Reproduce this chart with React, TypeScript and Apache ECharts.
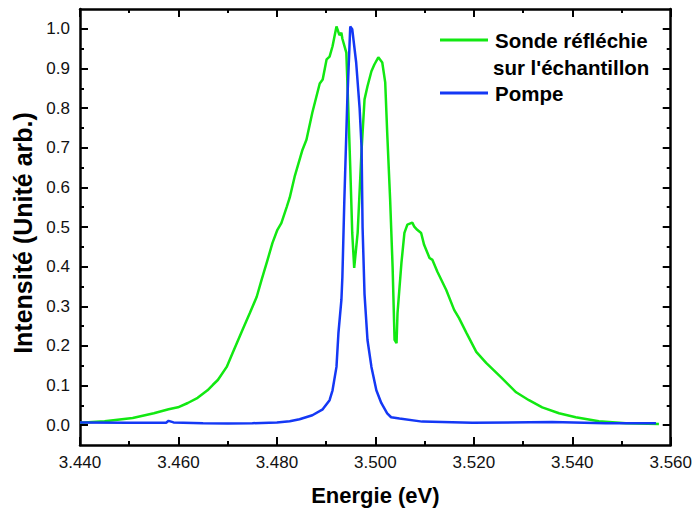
import React, { useEffect, useRef } from "react";
import * as echarts from "echarts";

const sondeEnergy = [
  3.44, 3.445, 3.4507, 3.455, 3.458, 3.4599, 3.4619, 3.4639, 3.4659, 3.467, 3.468, 3.4698,
  3.471, 3.473, 3.4745, 3.4759, 3.4769, 3.4781, 3.4791, 3.4801, 3.4809, 3.482, 3.4826,
  3.4836, 3.4852, 3.486, 3.4872, 3.4887, 3.4893, 3.4901, 3.4907, 3.4913, 3.4921, 3.4927,
  3.4931, 3.4933, 3.4941, 3.4945, 3.4949, 3.4953, 3.4957, 3.4964, 3.4972, 3.4978, 3.4984,
  3.4992, 3.4998, 3.5006, 3.5014, 3.502, 3.5024, 3.503, 3.5035, 3.5039, 3.5043, 3.5045,
  3.5053, 3.5059, 3.5065, 3.5075, 3.5079, 3.5085, 3.5093, 3.5099, 3.511, 3.5116, 3.5126,
  3.5144, 3.516, 3.517, 3.5185, 3.5205, 3.5225, 3.5255, 3.5286, 3.5312, 3.5339, 3.5373,
  3.5407, 3.5454, 3.5509, 3.5576,
];
const sondeValues = [
  0.006, 0.01, 0.018, 0.03, 0.04, 0.045, 0.056, 0.069, 0.088, 0.102, 0.114, 0.147,
  0.182, 0.24, 0.283, 0.324, 0.367, 0.417, 0.46, 0.493, 0.51, 0.551, 0.574,
  0.627, 0.695, 0.72, 0.789, 0.862, 0.872, 0.923, 0.93, 0.956, 1.006, 0.984,
  0.99, 0.975, 0.94, 0.8, 0.65, 0.485, 0.397, 0.485, 0.695, 0.822, 0.855,
  0.893, 0.91, 0.928, 0.915, 0.865, 0.739, 0.569, 0.4, 0.215, 0.207, 0.283,
  0.41, 0.485, 0.506, 0.511, 0.501, 0.493, 0.485, 0.455, 0.422, 0.417, 0.387,
  0.341, 0.291, 0.27, 0.233, 0.185, 0.157, 0.121, 0.083, 0.063, 0.045, 0.03,
  0.02, 0.01, 0.005, 0.003,
];

const pompeEnergy = [
  3.44, 3.45, 3.4575, 3.458, 3.459, 3.465, 3.47, 3.475, 3.48, 3.4826, 3.4846, 3.4872,
  3.4893, 3.4907, 3.4913, 3.4921, 3.4925, 3.4931, 3.4933, 3.4937, 3.4943, 3.4949, 3.4953,
  3.4961, 3.4968, 3.4972, 3.4974, 3.4978, 3.4984, 3.4992, 3.5002, 3.5012, 3.5024, 3.5032,
  3.5049, 3.5095, 3.5197, 3.5359, 3.5468, 3.557,
];
const pompeValues = [
  0.007, 0.006, 0.006, 0.011, 0.007, 0.005, 0.004, 0.005, 0.007, 0.01, 0.015, 0.025,
  0.04, 0.063, 0.088, 0.147, 0.233, 0.316, 0.374, 0.569, 0.82, 1.006, 0.999,
  0.915, 0.8, 0.7, 0.5, 0.33, 0.215, 0.147, 0.088, 0.056, 0.03, 0.02,
  0.017, 0.009, 0.006, 0.008, 0.005, 0.005,
];

const yMajorTicks = [0, 0.1, 0.2, 0.3, 0.4, 0.5, 0.6, 0.7, 0.8, 0.9, 1.0];
const yMinorTicks = [0.05, 0.15, 0.25, 0.35, 0.45, 0.55, 0.65, 0.75, 0.85, 0.95];

const legendSonde = ["Sonde réfléchie", "sur l'échantillon"];
const legendPompe = "Pompe";

const FONT = "'Liberation Sans', Arial, Helvetica, sans-serif";
const GREEN = "#12e812";
const BLUE = "#1438f5";

export default function App() {
  const ref = useRef<HTMLDivElement>(null);

  useEffect(() => {
    if (!ref.current) return;
    const chart = echarts.init(ref.current, null, { renderer: "svg" });

    const yBase = (position: "left" | "right", ticks: number[], len: number, showLine: boolean, labels: boolean, name?: string) => ({
      type: "value",
      position,
      min: -0.05,
      max: 1.05,
      splitLine: { show: false },
      axisLine: { show: showLine, onZero: false, lineStyle: { color: "#000", width: 2.5 } },
      axisTick: {
        show: true,
        inside: true,
        length: len,
        customValues: ticks,
        lineStyle: { color: "#000", width: 2 },
      },
      axisLabel: labels
        ? {
            show: true,
            customValues: ticks,
            formatter: (v: number) => v.toFixed(1),
            color: "#111",
            fontSize: 17,
            fontFamily: FONT,
            margin: 10,
          }
        : { show: false },
      name: name,
      nameLocation: "middle",
      nameGap: 42,
      nameTextStyle: { fontSize: 25, fontWeight: "bold", color: "#000", fontFamily: FONT, padding: [0, 12, 0, 0] },
    });

    const xBase = (position: "bottom" | "top", labels: boolean, name?: string) => ({
      type: "value",
      position,
      min: 3.44,
      max: 3.56,
      interval: 0.02,
      splitLine: { show: false },
      axisLine: { show: true, onZero: false, lineStyle: { color: "#000", width: 2.5 } },
      axisTick: { show: true, inside: true, length: 8, lineStyle: { color: "#000", width: 2 } },
      minorTick: { show: true, splitNumber: 2, length: 4, lineStyle: { color: "#000", width: 2 } },
      axisLabel: labels
        ? {
            show: true,
            formatter: (v: number) => v.toFixed(3),
            color: "#111",
            fontSize: 17,
            fontFamily: FONT,
            margin: 9,
          }
        : { show: false },
      name: name,
      nameLocation: "middle",
      nameGap: 39,
      nameTextStyle: { fontSize: 22, fontWeight: "bold", color: "#000", fontFamily: FONT },
    });

    chart.setOption({
      animation: false,
      backgroundColor: "#fff",
      grid: { left: 80, right: 23, top: 9, bottom: 66, containLabel: false },
      xAxis: [xBase("bottom", true, "Energie (eV)"), xBase("top", false)],
      yAxis: [
        yBase("left", yMajorTicks, 8, true, true, "Intensité (Unité arb.)"),
        yBase("left", yMinorTicks, 4, false, false),
        yBase("right", yMajorTicks, 8, true, false),
        yBase("right", yMinorTicks, 4, false, false),
      ],
      series: [
        {
          name: legendSonde.join("\n"),
          type: "line",
          xAxisIndex: 0,
          yAxisIndex: 0,
          showSymbol: false,
          smooth: false,
          lineStyle: { color: GREEN, width: 2.5 },
          data: sondeEnergy.map((e, i) => [e, sondeValues[i]]),
        },
        {
          name: legendPompe,
          type: "line",
          xAxisIndex: 0,
          yAxisIndex: 0,
          showSymbol: false,
          smooth: false,
          lineStyle: { color: BLUE, width: 2.5 },
          data: pompeEnergy.map((e, i) => [e, pompeValues[i]]),
        },
      ],
      graphic: [
        { type: "line", shape: { x1: 440, y1: 40, x2: 488, y2: 40 }, style: { stroke: GREEN, lineWidth: 3 } },
        { type: "line", shape: { x1: 440, y1: 93, x2: 488, y2: 93 }, style: { stroke: BLUE, lineWidth: 3 } },
        {
          type: "text",
          x: 495,
          y: 40,
          style: { text: legendSonde[0], fill: "#000", fontSize: 20.5, fontWeight: "bold", fontFamily: FONT, verticalAlign: "middle", align: "left" },
        },
        {
          type: "text",
          x: 493,
          y: 67,
          style: { text: legendSonde[1], fill: "#000", fontSize: 20.5, fontWeight: "bold", fontFamily: FONT, verticalAlign: "middle", align: "left" },
        },
        {
          type: "text",
          x: 495,
          y: 93,
          style: { text: legendPompe, fill: "#000", fontSize: 20.5, fontWeight: "bold", fontFamily: FONT, verticalAlign: "middle", align: "left" },
        },
      ],
    });

    return () => chart.dispose();
  }, []);

  return <div ref={ref} style={{ position: "fixed", left: 0, top: 0, width: 695, height: 511 }} />;
}
